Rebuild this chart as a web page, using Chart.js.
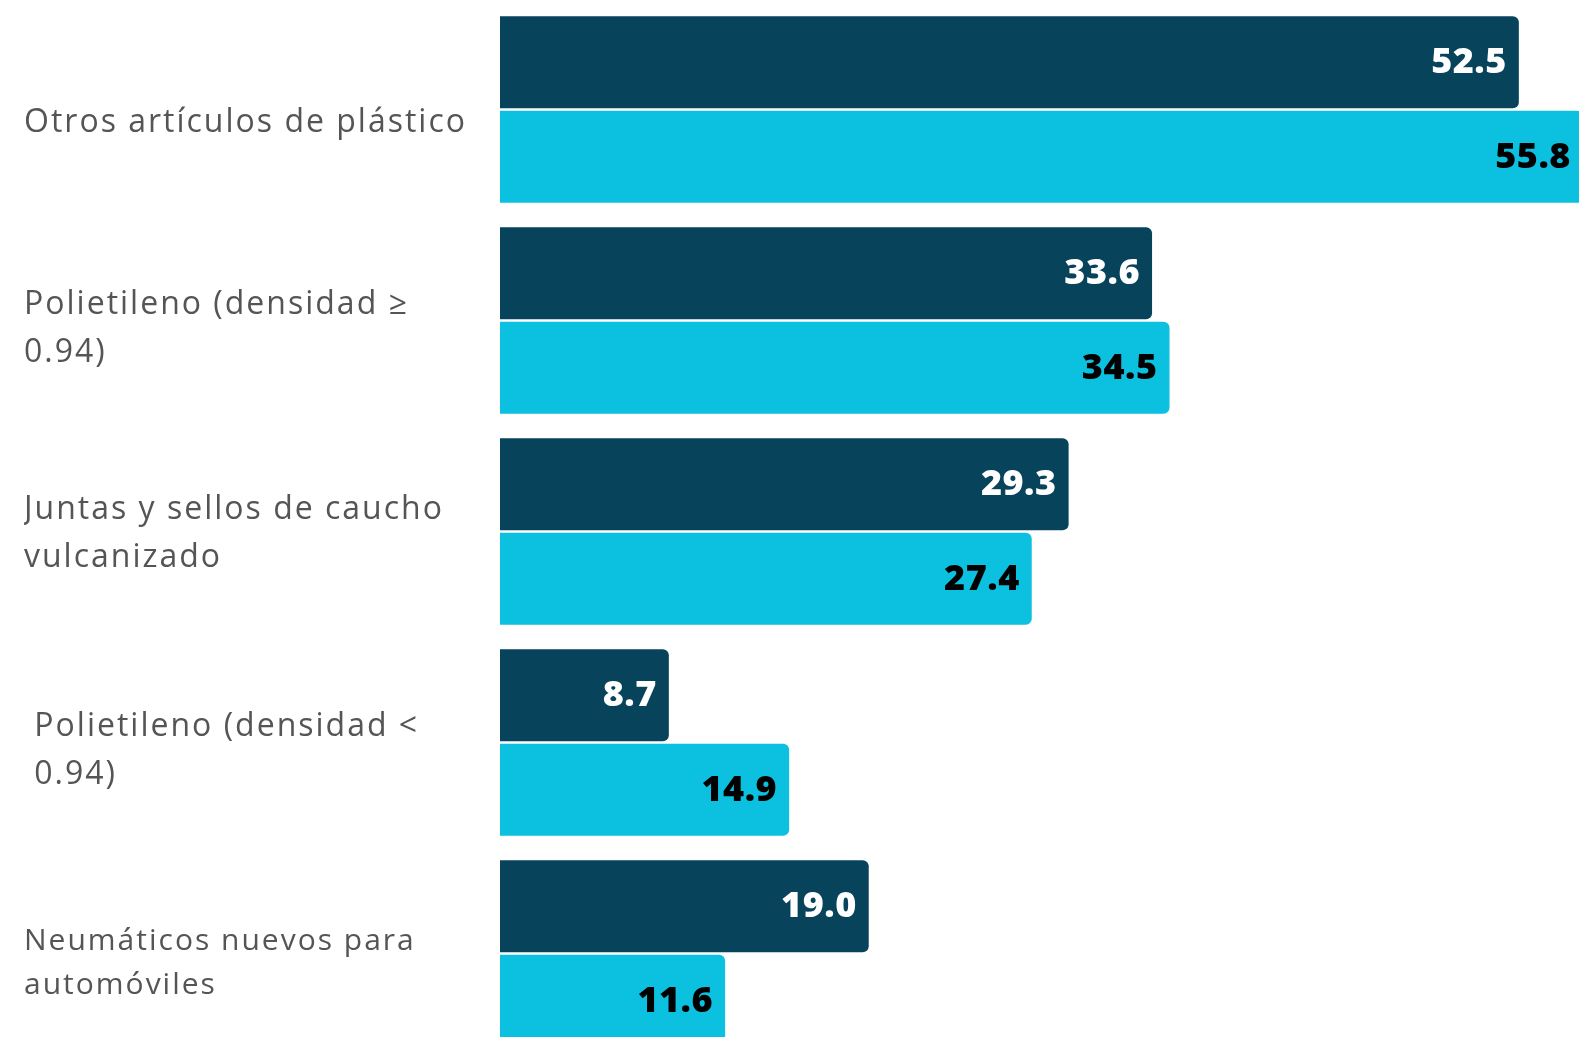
<!DOCTYPE html>
<html>
<head>
<meta charset="utf-8">
<script src="https://cdn.jsdelivr.net/npm/chart.js@4/dist/chart.umd.min.js"></script>
<style>
  html, body { margin: 0; padding: 0; background: #fff; overflow: hidden; }
  #wrap { position: relative; width: 1579px; height: 1063px; }
</style>
</head>
<body>
<div id="wrap"><canvas id="grafico"></canvas></div>
<script>
// categorias (etiquetas del eje)
const categorias = [
  "Otros artículos de plástico",
  ["Polietileno (densidad ≥", "0.94)"],
  ["Juntas y sellos de caucho", "vulcanizado"],
  [" Polietileno (densidad <", " 0.94)"],
  ["Neumáticos nuevos para", "automóviles"]
];
// serie oscura y serie celeste
const serieOscura = [52.5, 33.6, 29.3, 8.7, 19.0];
const serieCeleste = [55.8, 34.5, 27.4, 14.9, 11.6];

const colorOscuro = "#07435b";
const colorCeleste = "#0cc0df";

// pequeño ajuste vertical de cada etiqueta del eje (px)
const ajusteEtiquetas = [13, 8, 2, 8, 10];

// espaciado de letras para las etiquetas del eje + ajuste vertical
const espaciado = {
  id: "espaciado",
  afterLayout(chart) {
    const s = chart.scales.y;
    s._labelItems = s._computeLabelItems(chart.chartArea);
    s._labelItems.forEach((item, i) => {
      item.options.translation[1] += ajusteEtiquetas[i] || 0;
    });
  },
  beforeDraw(chart) { chart.ctx.letterSpacing = "2px"; },
  beforeDatasetsDraw(chart) { chart.ctx.letterSpacing = "0px"; }
};

// etiquetas de valor dentro de la barra
const etiquetasValor = {
  id: "etiquetasValor",
  afterDatasetsDraw(chart) {
    const ctx = chart.ctx;
    ctx.save();
    ctx.letterSpacing = "0.5px";
    chart.data.datasets.forEach((ds, i) => {
      const meta = chart.getDatasetMeta(i);
      meta.data.forEach((bar, j) => {
        ctx.font = "800 36px 'Open Sans'";
        ctx.fillStyle = i === 0 ? "#ffffff" : "#000000";
        ctx.textAlign = "right";
        ctx.textBaseline = "middle";
        ctx.fillText(ds.data[j].toFixed(1), bar.x - 12, bar.y + 1);
      });
    });
    ctx.restore();
  }
};

const ctx = document.getElementById("grafico").getContext("2d");
const grafico = new Chart(ctx, {
  type: "bar",
  data: {
    labels: categorias,
    datasets: [
      {
        data: serieOscura,
        backgroundColor: colorOscuro,
        borderRadius: { topRight: 6, bottomRight: 6 },
        borderSkipped: "start",
        barPercentage: 0.975,
        categoryPercentage: 0.896
      },
      {
        data: serieCeleste,
        backgroundColor: colorCeleste,
        borderRadius: { topRight: 6, bottomRight: 6 },
        borderSkipped: "start",
        barPercentage: 0.975,
        categoryPercentage: 0.896
      }
    ]
  },
  options: {
    indexAxis: "y",
    responsive: true,
    maintainAspectRatio: false,
    animation: false,
    layout: { padding: { left: 24, top: 4, bottom: 4, right: 0 } },
    plugins: {
      legend: { display: false },
      tooltip: { enabled: false }
    },
    scales: {
      x: { display: false, min: 0, max: 55.6 },
      y: {
        grid: { display: false },
        border: { display: false },
        afterFit: (scale) => {
          scale.width = 476;
          scale.paddingTop = 0;
          scale.paddingBottom = 0;
        },
        ticks: {
          crossAlign: "far",
          padding: 0,
          color: "#555555",
          font: (c) => ({
            family: "'Open Sans'",
            size: c.index === 4 ? 30 : 32,
            lineHeight: c.index === 4 ? 1.47 : 1.5
          })
        }
      }
    }
  },
  plugins: [espaciado, etiquetasValor]
});
</script>
</body>
</html>
